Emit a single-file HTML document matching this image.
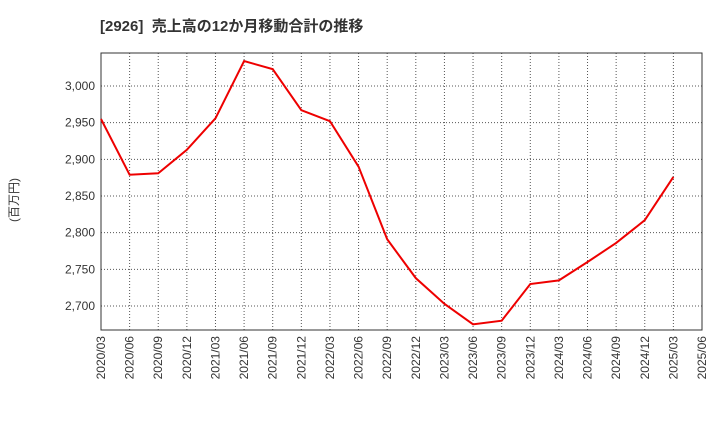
<!DOCTYPE html>
<html><head><meta charset="utf-8"><style>
body{margin:0;background:#fff;}
svg{display:block;font-family:"Liberation Sans","Noto Sans CJK JP",sans-serif;}
</style></head><body>
<svg id="chart" width="720" height="440">
<text x="100" y="31" font-size="15" font-weight="bold" fill="#333">[2926]&#160; 売上高の12か月移動合計の推移</text>
<text x="18" y="200" font-size="12" fill="#333" transform="rotate(-90 18 200)" text-anchor="middle">(百万円)</text>
<g id="grid"></g><g id="axes"></g><g id="series"></g>
</svg>
<script>
const categories=["2020/03","2020/06","2020/09","2020/12","2021/03","2021/06","2021/09","2021/12","2022/03","2022/06","2022/09","2022/12","2023/03","2023/06","2023/09","2023/12","2024/03","2024/06","2024/09","2024/12","2025/03","2025/06"];
const values=[2955,2879,2881,2913,2956,3034,3023,2967,2952,2890,2791,2738,2703,2675,2680,2730,2735,2760,2786,2817,2876];
const yTicks=[2700,2750,2800,2850,2900,2950,3000];
const L=101,R=702,T=53,B=330,yMin=2667.3,yMax=3045;
const xs=i=>L+i*(R-L)/(categories.length-1);
const ys=v=>B-(v-yMin)/(yMax-yMin)*(B-T);
const NS="http://www.w3.org/2000/svg";
function mk(tag,attrs,parent){const e=document.createElementNS(NS,tag);for(const k in attrs)e.setAttribute(k,attrs[k]);document.getElementById(parent).appendChild(e);return e;}
categories.forEach((c,i)=>{
  const g=mk("line",{x1:xs(i),x2:xs(i),y1:T,y2:B,stroke:"#555","stroke-dasharray":"1,2","stroke-width":1},"grid");
  
  
  const t=mk("text",{x:0,y:0,"font-size":12,fill:"#333","text-anchor":"end",transform:`translate(${xs(i)+4},${B+6}) rotate(-90)`},"axes");
  t.textContent=c;
  
  
});
yTicks.forEach(v=>{
  const g=mk("line",{x1:L,x2:R,y1:ys(v),y2:ys(v),stroke:"#555","stroke-dasharray":"1,2","stroke-width":1},"grid");
  
  
  const t=mk("text",{x:L-6,y:ys(v)+4,"font-size":12,fill:"#333","text-anchor":"end"},"axes");
  t.textContent=v.toLocaleString("en-US");
  
  
});
const frame=mk("rect",{x:L,y:T,width:R-L,height:B-T,fill:"none",stroke:"#333","stroke-width":1},"axes");


const line=mk("polyline",{points:values.map((v,i)=>xs(i)+","+ys(v)).join(" "),fill:"none",stroke:"#ee0000","stroke-width":2},"series");


</script>
</body></html>
